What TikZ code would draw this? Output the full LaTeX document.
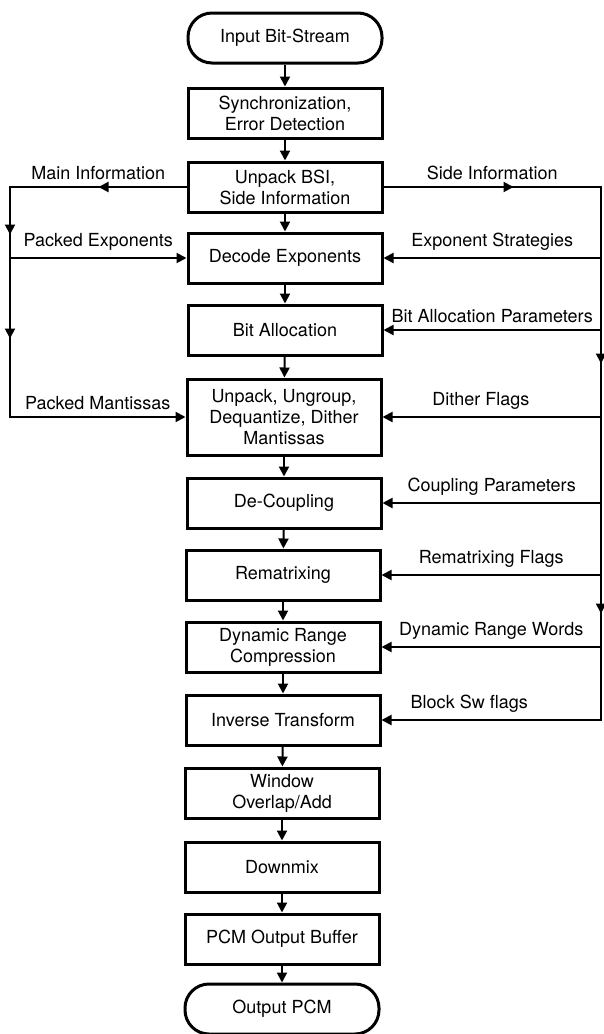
\documentclass[tikz,border=0pt]{standalone}
\usepackage{fontspec}
\setmainfont{TeX Gyre Heros}
\usetikzlibrary{arrows.meta,decorations.markings}

\begin{document}
\begin{tikzpicture}[
x=0.5pt, y=-0.5pt,
font=\fontsize{9}{10.5}\selectfont,
stage/.style={draw, rectangle, line width=1.5pt, minimum width=97pt, minimum height=25pt, align=center, inner sep=2pt},
term/.style={stage, rounded corners=12pt},
conn/.style={line width=1pt, -{Triangle[length=5pt,width=5pt]}},
mainbus/.style={conn, postaction={decorate}, decoration={markings,
  mark=at position 44pt with {\arrow{Triangle[length=5pt,width=5pt]}},
  mark=at position 112pt with {\arrow{Triangle[length=5pt,width=5pt]}},
  mark=at position 164pt with {\arrow{Triangle[length=5pt,width=5pt]}}}},
sidebus/.style={conn, postaction={decorate}, decoration={markings,
  mark=at position 65pt with {\arrow{Triangle[length=5pt,width=5pt]}},
  mark=at position 197pt with {\arrow{Triangle[length=5pt,width=5pt]}},
  mark=at position 322pt with {\arrow{Triangle[length=5pt,width=5pt]}}}}
]
\useasboundingbox (0,0) rectangle (604,1034);

\node[term]  (input)   at (285,38)  {Input Bit-Stream};
\node[stage] (sync)    at (285,113) {Synchronization,\\Error Detection};
\node[stage] (unpack)  at (285,187) {Unpack BSI,\\Side Information};
\node[stage] (decode)  at (285,258) {Decode Exponents};
\node[stage] (bitalloc) at (285,330) {Bit Allocation};
\node[stage, minimum height=38pt] (mant) at (284,417) {Unpack, Ungroup,\\Dequantize, Dither\\Mantissas};
\node[stage] (decoup)  at (284,503) {De-Coupling};
\node[stage] (remat)   at (283,575) {Rematrixing};
\node[stage] (drc)     at (283,647) {Dynamic Range\\Compression};
\node[stage] (invtr)   at (283,720) {Inverse Transform};
\node[stage] (window)  at (282,793) {Window\\Overlap/Add};
\node[stage] (downmix) at (282,867) {Downmix};
\node[stage] (pcmbuf)  at (282,939) {PCM Output Buffer};
\node[term]  (output)  at (282,1009) {Output PCM};

\coordinate (L) at (10,0);
\coordinate (R) at (601,0);

% main chain
\foreach \a/\b in {input/sync, sync/unpack, unpack/decode, decode/bitalloc, bitalloc/mant,
  mant/decoup, decoup/remat, remat/drc, drc/invtr, invtr/window, window/downmix,
  downmix/pcmbuf, pcmbuf/output}
  \draw[conn] (\a) -- (\b);

% main information
\draw[mainbus] (unpack.west) -- node[above]{Main Information} (unpack.west -| L)
  -- (mant.west -| L) -- node[above]{Packed Mantissas} (mant.west);
\draw[conn] (decode.west -| L) -- node[above]{Packed Exponents} (decode.west);

% side information
\draw[sidebus] (unpack.east) -- node[above]{Side Information} (unpack.east -| R)
  -- (invtr.east -| R) -- node[above, pos=0.6]{Block Sw flags} (invtr.east);
\draw[conn] (decode.east -| R) -- node[above]{Exponent Strategies} (decode.east);
\draw[conn] (bitalloc.east -| R) -- node[above]{Bit Allocation Parameters} (bitalloc.east);
\draw[conn] (mant.east -| R) -- node[above, pos=0.55]{Dither Flags} (mant.east);
\draw[conn] (decoup.east -| R) -- node[above]{Coupling Parameters} (decoup.east);
\draw[conn] (remat.east -| R) -- node[above]{Rematrixing Flags} (remat.east);
\draw[conn] (drc.east -| R) -- node[above]{Dynamic Range Words} (drc.east);
\end{tikzpicture}
\end{document}
